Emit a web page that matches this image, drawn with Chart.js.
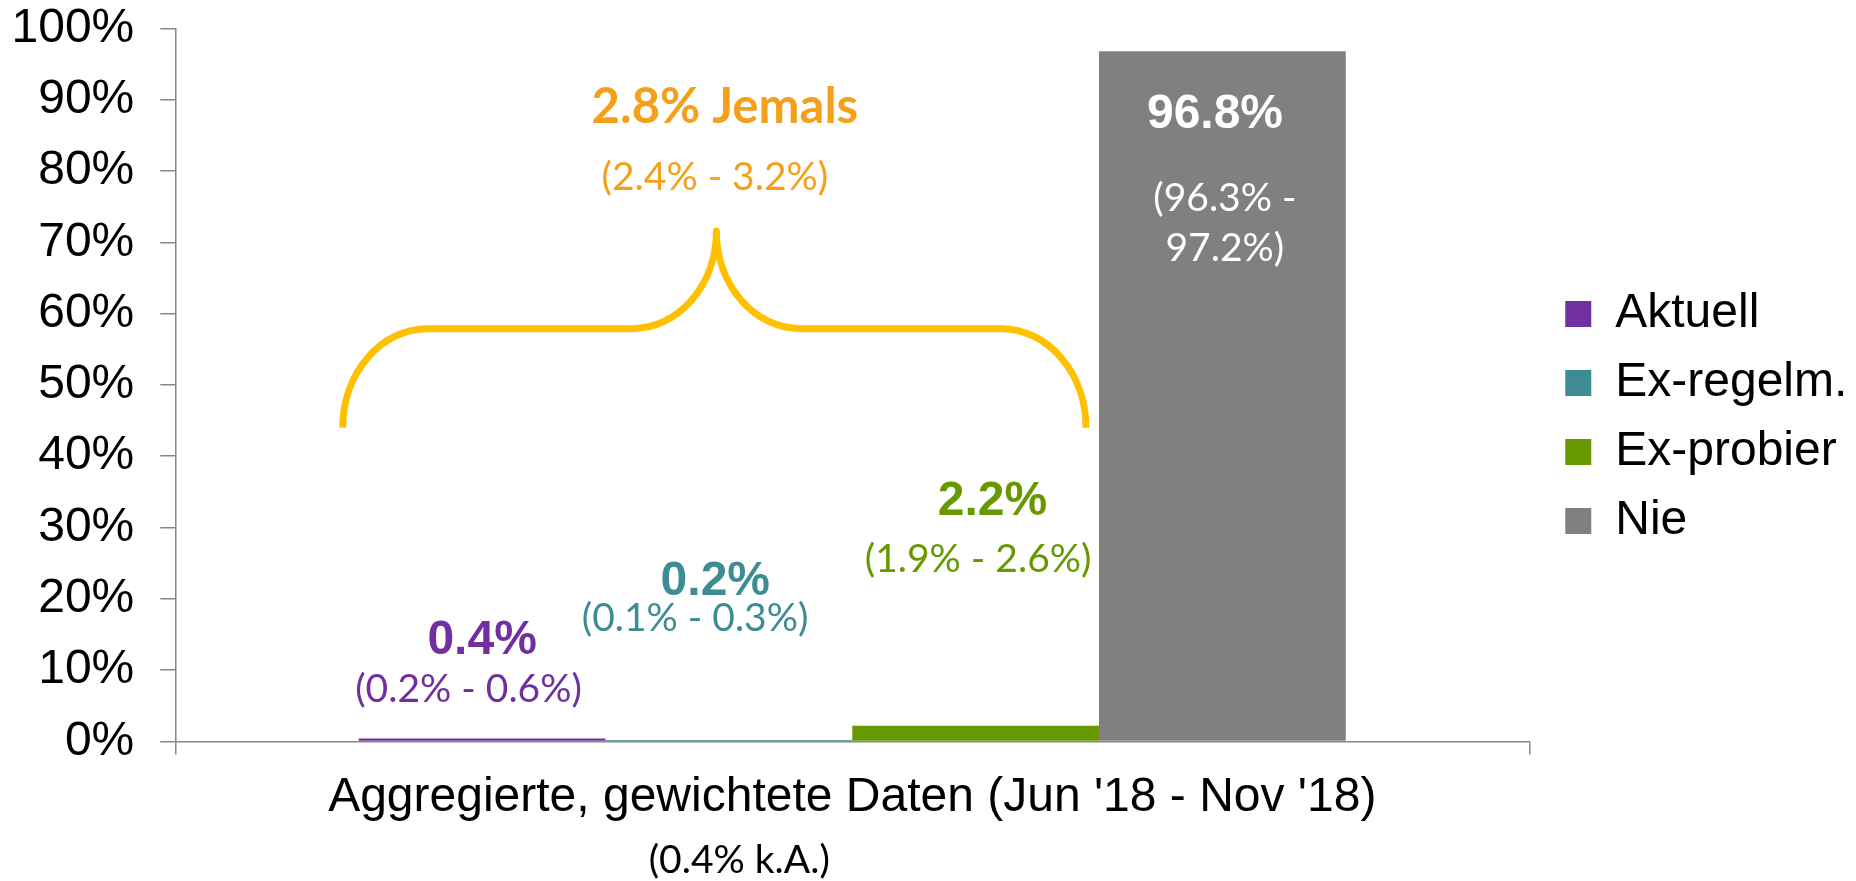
<!DOCTYPE html>
<html>
<head>
<meta charset="utf-8">
<title>Jemals</title>
<script src="https://cdn.jsdelivr.net/npm/chart.js"></script>
<style>
  html, body { margin: 0; padding: 0; background: #fff; }
</style>
</head>
<body>
<canvas id="myChart" width="1856" height="881"></canvas>
<script>
// data
var categories = ["Aggregierte, gewichtete Daten (Jun '18 - Nov '18)"];
var missingNote = '(0.4% k.A.)';
var groups = ['Aktuell', 'Ex-regelm.', 'Ex-probier', 'Nie'];
var values = [0.4, 0.2, 2.2, 96.8];
var lower = [0.2, 0.1, 1.9, 96.3];
var upper = [0.6, 0.3, 2.6, 97.2];
var everValue = 2.8;
var everLower = 2.4;
var everUpper = 3.2;
var everLabel = 'Jemals';

var colors = ['#7030A0', '#3E8C93', '#669900', '#808080'];
var textColors = ['#7030A0', '#3E8C93', '#669900', '#FFFFFF'];
var ARIAL = "'Liberation Sans', Arial, sans-serif";
var CALIBRI = "Lato, 'Open Sans', sans-serif";

// label placement: y in axis %, dx as share of bar width
var labelPos = [
    { y: 14.1, dx: 0,      subY: [7.3],        subDx: -0.055 },
    { y: 22.4, dx: -0.055, subY: [17.2],       subDx: -0.137 },
    { y: 33.6, dx: 0.068,  subY: [25.5],       subDx: 0.01 },
    { y: 87.9, dx: -0.03,  subY: [76.1, 69.2], subDx: 0.01 }
];
var brace = { bottom: 44.0, flat: 57.9, top: 71.6 };

function fmt(v) { return v.toFixed(1) + '%'; }

var labelsPlugin = {
    id: 'labelsPlugin',
    afterDatasetsDraw: function (chart) {
        var ctx = chart.ctx;
        var y = chart.scales.y;
        var x = chart.scales.x;
        ctx.save();
        ctx.textAlign = 'center';
        ctx.textBaseline = 'middle';
        values.forEach(function (v, i) {
            var bar = chart.getDatasetMeta(i).data[0];
            var p = labelPos[i];
            ctx.fillStyle = textColors[i];
            ctx.font = 'bold 48px ' + ARIAL;
            ctx.fillText(fmt(v), bar.x + p.dx * bar.width, y.getPixelForValue(p.y));
            ctx.font = '39px ' + CALIBRI;
            var lines = p.subY.length > 1
                ? ['(' + fmt(lower[i]) + ' -', fmt(upper[i]) + ')']
                : ['(' + fmt(lower[i]) + ' - ' + fmt(upper[i]) + ')'];
            lines.forEach(function (t, k) {
                ctx.fillText(t, bar.x + p.subDx * bar.width, y.getPixelForValue(p.subY[k]));
            });
        });

        // brace over the three "ever" groups
        var b0 = chart.getDatasetMeta(0).data[0];
        var b1 = chart.getDatasetMeta(1).data[0];
        var b2 = chart.getDatasetMeta(2).data[0];
        var x0 = b0.x - b0.width / 2 - 16;
        var x1 = b2.x + b2.width / 2 - 13;
        var xm = b1.x - 12.5;
        var yB = y.getPixelForValue(brace.bottom);
        var yF = y.getPixelForValue(brace.flat);
        var yT = y.getPixelForValue(brace.top);
        var k = 0.552, rx = 85, rm = 84;
        ctx.strokeStyle = '#FFC000';
        ctx.lineWidth = 7;
        ctx.lineJoin = 'round';
        ctx.beginPath();
        ctx.moveTo(x0, yB);
        ctx.bezierCurveTo(x0, yB - k * (yB - yF), x0 + rx - k * rx, yF, x0 + rx, yF);
        ctx.lineTo(xm - rm, yF);
        ctx.bezierCurveTo(xm - rm + k * rm, yF, xm, yT + k * (yF - yT), xm, yT);
        ctx.bezierCurveTo(xm, yT + k * (yF - yT), xm + rm - k * rm, yF, xm + rm, yF);
        ctx.lineTo(x1 - rx, yF);
        ctx.bezierCurveTo(x1 - rx + k * rx, yF, x1, yB - k * (yB - yF), x1, yB);
        ctx.stroke();

        ctx.fillStyle = '#F5A01A';
        ctx.font = 'bold 49px ' + CALIBRI;
        ctx.fillText(fmt(everValue) + ' ' + everLabel, b1.x - 4, y.getPixelForValue(89.0));
        ctx.font = '39px ' + CALIBRI;
        ctx.fillText('(' + fmt(everLower) + ' - ' + fmt(everUpper) + ')', b1.x - 14, y.getPixelForValue(79.1));

        // note under the category label
        ctx.fillStyle = '#000';
        ctx.fillText(missingNote, (x.left + x.right) / 2 - 113, x.bottom - 21);
        ctx.restore();
    }
};

// keeps a small gap between the plot and the legend
var legendGap = {
    id: 'legendGap',
    beforeInit: function (chart) {
        Chart.layouts.addBox(chart, {
            position: 'right',
            weight: 500,
            fullSize: false,
            options: {},
            width: 0, height: 0, left: 0, top: 0, right: 0, bottom: 0,
            isHorizontal: function () { return false; },
            update: function (maxWidth, maxHeight) { this.width = 15; this.height = maxHeight; },
            draw: function () {}
        });
    }
};

var ctx = document.getElementById('myChart').getContext('2d');
var myChart = new Chart(ctx, {
    type: 'bar',
    data: {
        labels: categories,
        datasets: groups.map(function (g, i) {
            return {
                label: g,
                data: [values[i]],
                backgroundColor: colors[i],
                borderWidth: 0,
                barPercentage: 1,
                categoryPercentage: 0.729
            };
        })
    },
    options: {
        responsive: false,
        animation: false,
        devicePixelRatio: 1,
        layout: { padding: { left: -14.5, right: 0, top: 28.5, bottom: 0 } },
        scales: {
            x: {
                grid: { drawOnChartArea: false, tickLength: 13, color: '#888', lineWidth: 1.5 },
                border: { color: '#888', width: 1.5 },
                ticks: { color: '#000', padding: 15, font: { size: 48, family: ARIAL } },
                afterFit: function (scale) { scale.height += 39; }
            },
            y: {
                min: 0,
                max: 100,
                grid: { drawOnChartArea: false, tickLength: 15, color: '#888', lineWidth: 1.5 },
                border: { color: '#888', width: 1.5 },
                ticks: {
                    stepSize: 10,
                    padding: 26,
                    color: '#000',
                    // tiny line height so the top label does not push the plot down
                    font: { size: 48, family: ARIAL, lineHeight: 0.05 },
                    callback: function (v) { return v + '%'; }
                }
            }
        },
        plugins: {
            tooltip: { enabled: false },
            legend: {
                position: 'right',
                fullSize: false,
                title: { display: true, text: '', font: { size: 20 }, padding: { top: 0, bottom: 41 } },
                labels: {
                    boxWidth: 26,
                    boxHeight: 26,
                    padding: 21,
                    color: '#000',
                    font: { size: 48, family: ARIAL }
                }
            }
        }
    },
    plugins: [labelsPlugin, legendGap]
});
</script>
</body>
</html>
